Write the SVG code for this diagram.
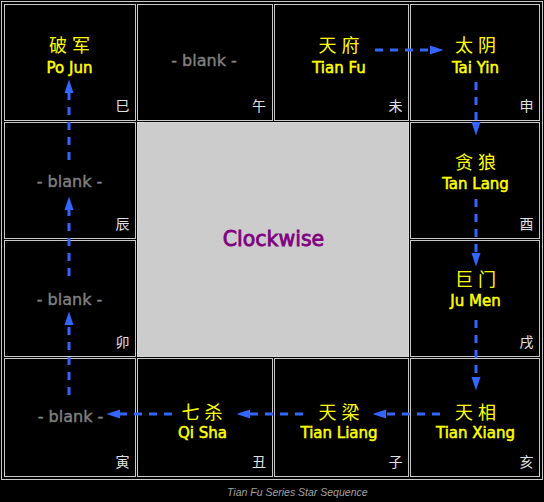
<svg xmlns="http://www.w3.org/2000/svg" width="544" height="502" viewBox="0 0 544 502">
<style>
.cell{fill:#000;stroke:#c8c8c8;stroke-width:1}
.center{fill:#cccccc;stroke:#d8d8d8;stroke-width:1}
.zh{font-family:"Noto Sans CJK SC",sans-serif;font-size:18px;fill:#ffff00;text-anchor:middle;letter-spacing:5px}
.en{font-family:"DejaVu Sans",sans-serif;font-size:15px;fill:#ffff00;stroke:#ffff00;stroke-width:0.5;text-anchor:middle}
.blank{font-family:"DejaVu Sans",sans-serif;font-size:16px;fill:#808080;stroke:#808080;stroke-width:0.4;text-anchor:middle}
.br{font-family:"Noto Sans CJK SC",sans-serif;font-size:14px;fill:#e0e0e0;text-anchor:end}
.arrow{stroke:#3366ff;stroke-width:3;stroke-dasharray:8 7;fill:none;marker-end:url(#ah)}
.title{font-family:"DejaVu Sans",sans-serif;font-size:20.5px;fill:#800080;stroke:#800080;stroke-width:0.8;text-anchor:middle}
.cap{font-family:"Liberation Sans",sans-serif;font-style:italic;font-size:10.5px;fill:#a0a0a0}
</style>
<defs>
<marker id="ah" markerUnits="userSpaceOnUse" markerWidth="14" markerHeight="10" refX="0" refY="5" orient="auto" viewBox="0 0 14 10">
<path d="M0,0.5 L13.5,5 L0,9.5 Z" fill="#3366ff"/>
</marker>
</defs>
<rect width="544" height="502" fill="#000"/>
<rect x="1.5" y="1.5" width="541" height="478" fill="none" stroke="#c8c8c8" stroke-width="1"/>

<g id="cell-si">
<rect class="cell" x="4.5" y="4.5" width="131" height="116"/>
<text class="zh" x="72" y="52">破军</text>
<text class="en" x="69.5" y="73">Po Jun</text>
<text class="br" x="129.5" y="111">巳</text>
</g>
<g id="cell-wu">
<rect class="cell" x="137.5" y="4.5" width="135" height="116"/>
<text class="blank" x="204" y="66">- blank -</text>
<text class="br" x="266" y="111">午</text>
</g>
<g id="cell-wei">
<rect class="cell" x="274.5" y="4.5" width="134" height="116"/>
<text class="zh" x="341.5" y="52">天府</text>
<text class="en" x="339" y="73">Tian Fu</text>
<text class="br" x="402.5" y="111">未</text>
</g>
<g id="cell-shen">
<rect class="cell" x="410.5" y="4.5" width="129" height="116"/>
<text class="zh" x="478" y="52">太阴</text>
<text class="en" x="475.5" y="73">Tai Yin</text>
<text class="br" x="533.5" y="111">申</text>
</g>

<g id="cell-chen">
<rect class="cell" x="4.5" y="122.5" width="131" height="116"/>
<text class="blank" x="69.5" y="186.5">- blank -</text>
<text class="br" x="129.5" y="229">辰</text>
</g>
<g id="cell-you">
<rect class="cell" x="410.5" y="122.5" width="129" height="116"/>
<text class="zh" x="478" y="168.5">贪狼</text>
<text class="en" x="475.5" y="188.5">Tan Lang</text>
<text class="br" x="533.5" y="229">酉</text>
</g>

<g id="center">
<rect class="center" x="137.5" y="122.5" width="271" height="234"/>
<text class="title" x="273.5" y="245.5">Clockwise</text>
</g>

<g id="cell-mao">
<rect class="cell" x="4.5" y="240.5" width="131" height="116"/>
<text class="blank" x="69.5" y="305">- blank -</text>
<text class="br" x="129.5" y="347">卯</text>
</g>
<g id="cell-xu">
<rect class="cell" x="410.5" y="240.5" width="129" height="116"/>
<text class="zh" x="478" y="286">巨门</text>
<text class="en" x="475.5" y="306">Ju Men</text>
<text class="br" x="533.5" y="347">戌</text>
</g>

<g id="cell-yin">
<rect class="cell" x="4.5" y="358.5" width="131" height="118"/>
<text class="blank" x="70.5" y="422">- blank -</text>
<text class="br" x="129.5" y="467">寅</text>
</g>
<g id="cell-chou">
<rect class="cell" x="137.5" y="358.5" width="135" height="118"/>
<text class="zh" x="204.5" y="419">七杀</text>
<text class="en" x="202.5" y="438">Qi Sha</text>
<text class="br" x="266" y="467">丑</text>
</g>
<g id="cell-zi">
<rect class="cell" x="274.5" y="358.5" width="134" height="118"/>
<text class="zh" x="341.5" y="419">天梁</text>
<text class="en" x="339" y="438">Tian Liang</text>
<text class="br" x="402.5" y="467">子</text>
</g>
<g id="cell-hai">
<rect class="cell" x="410.5" y="358.5" width="129" height="118"/>
<text class="zh" x="478" y="419">天相</text>
<text class="en" x="475.5" y="438">Tian Xiang</text>
<text class="br" x="533.5" y="467">亥</text>
</g>

<g id="connectors">
<line class="arrow" x1="375" y1="50" x2="430" y2="50"/>
<line class="arrow" x1="476" y1="82" x2="476" y2="122"/>
<line class="arrow" x1="476" y1="199" x2="476" y2="253"/>
<line class="arrow" x1="476" y1="320" x2="476" y2="377"/>
<line class="arrow" x1="440" y1="414" x2="386" y2="414"/>
<line class="arrow" x1="303" y1="414" x2="250" y2="414"/>
<line class="arrow" x1="172" y1="414" x2="120" y2="414"/>
<line class="arrow" x1="69" y1="395" x2="69" y2="325"/>
<line class="arrow" x1="69" y1="276" x2="69" y2="210"/>
<line class="arrow" x1="69" y1="160" x2="69" y2="93"/>
</g>

<text class="cap" x="227" y="496">Tian Fu Series Star Sequence</text>
</svg>
